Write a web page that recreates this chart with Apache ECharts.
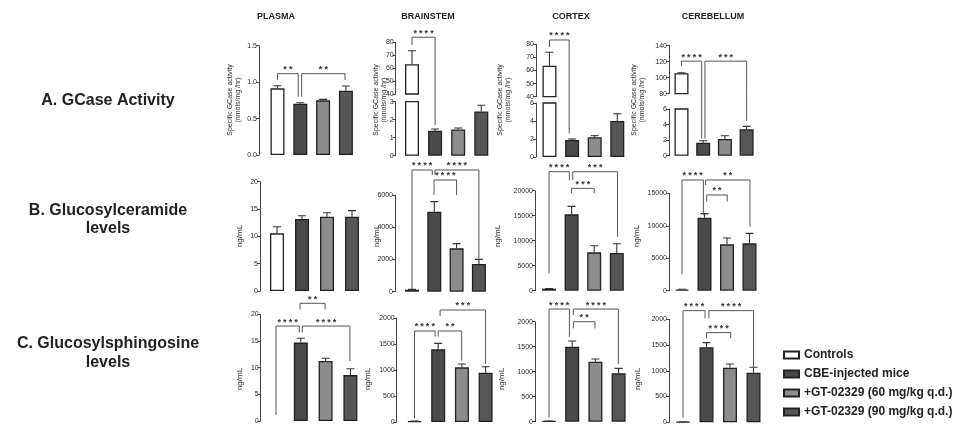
<!DOCTYPE html>
<html>
<head>
<meta charset="utf-8">
<script src="https://cdn.jsdelivr.net/npm/echarts@6/dist/echarts.min.js"></script>
<style>
  html, body { margin: 0; padding: 0; background: #fff; }
  #chart { width: 963px; height: 426px; }
</style>
</head>
<body>
<div id="chart"></div>
<script>
var groups = ['Controls', 'CBE-injected mice', '+GT-02329 (60 mg/kg q.d.)', '+GT-02329 (90 mg/kg q.d.)'];
var tissues = ['PLASMA', 'BRAINSTEM', 'CORTEX', 'CEREBELLUM'];
var rowTitles = [['A. GCase Activity'], ['B. Glucosylceramide', 'levels'], ['C. Glucosylsphingosine', 'levels']];
var gcaseUnit = 'Specific GCase activity\n(nmols/mg /hr)';
var concUnit = 'ng/mL';

// A. GCase activity, mean and SEM
var gcasePlasma = [0.915, 0.705, 0.75, 0.883];
var gcasePlasmaErr = [0.035, 0.013, 0.014, 0.064];
var gcaseBrainstem = [63, 1.39, 1.46, 2.46];
var gcaseBrainstemErr = [10.5, 0.09, 0.08, 0.34];
var gcaseCortex = [63.7, 1.9, 2.2, 4.0];
var gcaseCortexErr = [10.2, 0.1, 0.17, 0.8];
var gcaseCerebellum = [105.6, 1.67, 2.14, 3.39];
var gcaseCerebellumErr = [0.5, 0.26, 0.43, 0.38];

// B. glucosylceramide (ng/mL)
var gcerPlasma = [10.55, 13.17, 13.6, 13.6];
var gcerPlasmaErr = [1.22, 0.61, 0.73, 1.1];
var gcerBrainstem = [125, 4966, 2690, 1717];
var gcerBrainstemErr = [20, 620, 290, 290];
var gcerCortex = [400, 15270, 7670, 7530];
var gcerCortexErr = [50, 1600, 1330, 1870];
var gcerCerebellum = [200, 11250, 7140, 7290];
var gcerCerebellumErr = [30, 620, 975, 1540];

// C. glucosylsphingosine (ng/mL); plasma controls not detected
var gsphPlasma = [null, 14.7, 11.25, 8.6];
var gsphPlasmaErr = [null, 0.8, 0.5, 1.2];
var gsphBrainstem = [15, 1401, 1054, 951];
var gsphBrainstemErr = [2, 116, 64, 116];
var gsphCortex = [10, 1500, 1200, 967];
var gsphCortexErr = [2, 113, 53, 100];
var gsphCerebellum = [10, 1456, 1061, 964];
var gsphCerebellumErr = [2, 91, 72, 104];

// significance brackets: [from, to, top, left leg end, right leg end, stars]
// from/to in category units; on broken axes a leg end below the upper segment belongs to the lower one
var gcasePlasmaSig = [[0, 0.91, 1.116, 1.03, 0.80, '**'], [1.06, 2.96, 1.116, 0.80, 1.03, '**']];
var gcaseBrainstemSig = [[0, 1.0, 83.9, 77.9, 1.7, '****']];
var gcaseCortexSig = [[0, 0.87, 83.3, 78, 2.6, '****']];
var gcaseCerebellumSig = [[0, 0.93, 120.7, 114.4, 2.2, '****'], [1.08, 3.0, 120.7, 2.2, 4.5, '***']];
var gcerBrainstemSig = [[0, 0.91, 7552, 165, 7241, '****'], [1.03, 3.0, 7552, 7241, 1966, '****'], [0.99, 2.0, 6931, 6000, 6000, '****']];
var gcerCortexSig = [[0, 0.9, 23800, 3470, 22130, '****'], [1.05, 3.03, 23800, 22130, 10800, '***'], [1.0, 2.0, 20470, 19470, 19470, '***']];
var gcerCerebellumSig = [[0, 0.95, 17050, 2520, 11660, '****'], [1.05, 3.02, 17050, 16280, 9860, '**'], [1.1, 2.01, 14740, 13710, 13710, '**']];
var gsphPlasmaSig = [[0, 0.94, 17.8, 1.1, 16.6, '****'], [1.06, 2.98, 17.8, 16.6, 11.25, '****'], [0.97, 1.98, 22.06, 20.9, 20.9, '**']];
var gsphBrainstemSig = [[0, 0.87, 1755, 70, 1645, '****'], [1.0, 1.99, 1755, 1645, 1183, '**'], [1.08, 3.0, 2160, 2044, 1118, '***']];
var gsphCortexSig = [[0, 0.88, 2253, 80, 1700, '****'], [1.05, 2.99, 2253, 2133, 1153, '****'], [1.05, 1.98, 2000, 1867, 1867, '**']];
var gsphCerebellumSig = [[0, 0.94, 2168, 90, 2019, '****'], [1.1, 3.0, 2168, 2019, 1049, '****'], [1.0, 2.03, 1741, 1631, 1631, '****']];

var FONT = '"Liberation Sans", Arial, sans-serif';
var fills = ['#ffffff', '#4a4a4a', '#8c8c8c', '#565656'];

// panel layout (pixels): y-axis x, first bar centre, bar spacing, axis segments
var layout = [
  {mean: gcasePlasma, err: gcasePlasmaErr, sig: gcasePlasmaSig, axisX: 259, c0: 277.5, sp: 22.8, dec: 1,
    segs: [{min: 0, max: 1.5, step: 0.5, top: 45.7, bottom: 155}]},
  {mean: gcaseBrainstem, err: gcaseBrainstemErr, sig: gcaseBrainstemSig, axisX: 395.7, c0: 412, sp: 23.1,
    segs: [{min: 40, max: 80, step: 10, top: 42.3, bottom: 94}, {min: 0, max: 3, step: 1, top: 101.7, bottom: 155.7}]},
  {mean: gcaseCortex, err: gcaseCortexErr, sig: gcaseCortexSig, axisX: 536, c0: 549.5, sp: 22.6,
    segs: [{min: 40, max: 80, step: 10, top: 44.3, bottom: 96.7}, {min: 0, max: 6, step: 2, top: 103, bottom: 157}]},
  {mean: gcaseCerebellum, err: gcaseCerebellumErr, sig: gcaseCerebellumSig, axisX: 669, c0: 681.5, sp: 21.7,
    segs: [{min: 80, max: 140, step: 20, top: 45.7, bottom: 93.7}, {min: 0, max: 6, step: 2, top: 109, bottom: 155.7}]},

  {mean: gcerPlasma, err: gcerPlasmaErr, sig: null, axisX: 260, c0: 277, sp: 25,
    segs: [{min: 0, max: 20, step: 5, top: 181.7, bottom: 291}]},
  {mean: gcerBrainstem, err: gcerBrainstemErr, sig: gcerBrainstemSig, axisX: 395, c0: 412, sp: 22.3,
    segs: [{min: 0, max: 6000, step: 2000, top: 195, bottom: 291.7}]},
  {mean: gcerCortex, err: gcerCortexErr, sig: gcerCortexSig, axisX: 535, c0: 549, sp: 22.6,
    segs: [{min: 0, max: 20000, step: 5000, top: 190.7, bottom: 290.7}]},
  {mean: gcerCerebellum, err: gcerCerebellumErr, sig: gcerCerebellumSig, axisX: 669, c0: 682, sp: 22.5,
    segs: [{min: 0, max: 15000, step: 5000, top: 193.3, bottom: 290.7}]},

  {mean: gsphPlasma, err: gsphPlasmaErr, sig: gsphPlasmaSig, axisX: 260.7, c0: 276, sp: 24.8,
    segs: [{min: 0, max: 20, step: 5, top: 314.3, bottom: 421}]},
  {mean: gsphBrainstem, err: gsphBrainstemErr, sig: gsphBrainstemSig, axisX: 396.7, c0: 414.5, sp: 23.7,
    segs: [{min: 0, max: 2000, step: 500, top: 318.3, bottom: 422}]},
  {mean: gsphCortex, err: gsphCortexErr, sig: gsphCortexSig, axisX: 535, c0: 549, sp: 23.2,
    segs: [{min: 0, max: 2000, step: 500, top: 321.7, bottom: 421.7}]},
  {mean: gsphCerebellum, err: gsphCerebellumErr, sig: gsphCerebellumSig, axisX: 669, c0: 683, sp: 23.5,
    segs: [{min: 0, max: 2000, step: 500, top: 319.3, bottom: 422.3}]}
];

var unitLabels = [
  {text: gcaseUnit, size: 7, y: 100, xs: [234, 380, 504, 638]},
  {text: concUnit, size: 8, y: 236, xs: [240, 377, 498, 637]},
  {text: concUnit, size: 8, y: 379, xs: [240, 368, 502, 638]}
];

function makeBracket(p, si) {
  var seg = p.segs[si], upper = p.segs[0];
  var line = {stroke: '#555', lineWidth: 1, fill: 'none'};
  return function (params, api) {
    var b = p.sig[params.dataIndex];
    var c0 = api.coord([0, seg.min])[0];
    var band = api.size([1, 0])[0];
    var X = function (x) { return c0 + x * band; };
    var children = [];
    if (si === 0) {
      var yTop = api.coord([0, b[2]])[1];
      var y1 = api.coord([0, Math.max(b[3], seg.min)])[1];
      var y2 = api.coord([0, Math.max(b[4], seg.min)])[1];
      children.push({type: 'polyline', shape: {points: [[X(b[0]), y1], [X(b[0]), yTop], [X(b[1]), yTop], [X(b[1]), y2]]}, style: line});
      var n = b[5].length, cx = (X(b[0]) + X(b[1])) / 2;
      for (var k = 0; k < n; k++) {
        children.push({type: 'text', x: cx + (k - (n - 1) / 2) * 5.6, y: yTop - 4,
          style: {text: '*', font: 'bold 9px ' + FONT, fill: '#333', align: 'center', verticalAlign: 'middle'}});
      }
    } else {
      var yStart = api.coord([0, seg.max])[1] - (seg.top - upper.bottom);
      [[b[0], b[3]], [b[1], b[4]]].forEach(function (leg) {
        if (leg[1] < upper.min) {
          children.push({type: 'line', shape: {x1: X(leg[0]), y1: yStart, x2: X(leg[0]), y2: api.coord([0, leg[1]])[1]}, style: line});
        }
      });
    }
    return {type: 'group', children: children};
  };
}

function errorBar(params, api) {
  if (!(api.value(2) > api.value(1))) return;
  var a = api.coord([api.value(0), api.value(1)]);
  var b = api.coord([api.value(0), api.value(2)]);
  var st = {stroke: '#333', lineWidth: 1.1, fill: 'none'};
  return {type: 'group', children: [
    {type: 'line', shape: {x1: a[0], y1: a[1], x2: b[0], y2: b[1]}, style: st},
    {type: 'line', shape: {x1: b[0] - 4, y1: b[1], x2: b[0] + 4, y2: b[1]}, style: st}
  ]};
}

var grids = [], xAxes = [], yAxes = [], series = [];
layout.forEach(function (p) {
  p.segs.forEach(function (s, si) {
    var gi = grids.length;
    var left = p.c0 - p.sp / 2;
    grids.push({left: left, top: s.top, width: p.sp * 4, height: s.bottom - s.top});
    xAxes.push({type: 'category', gridIndex: gi, data: groups, show: false});
    yAxes.push({
      type: 'value', gridIndex: gi, min: s.min, max: s.max, interval: s.step, offset: left - p.axisX,
      axisLine: {show: true, lineStyle: {color: '#444', width: 1}},
      axisTick: {show: true, length: 3, lineStyle: {color: '#444', width: 1}},
      axisLabel: {fontSize: 7, color: '#2a2a2a', margin: 2, fontFamily: FONT,
        formatter: function (v) { return p.dec ? v.toFixed(p.dec) : String(v); }},
      splitLine: {show: false}
    });
    groups.forEach(function (g, k) {
      series.push({
        type: 'bar', name: g, xAxisIndex: gi, yAxisIndex: gi, barWidth: 14, barGap: '-100%', silent: true,
        data: p.mean.map(function (v, i) { return i === k && v != null ? v : '-'; }),
        itemStyle: {color: fills[k], borderColor: '#222', borderWidth: 1.3}
      });
    });
    series.push({
      type: 'custom', xAxisIndex: gi, yAxisIndex: gi, clip: true, z: 3, silent: true,
      data: p.mean.map(function (v, i) { return v == null ? [i, 0, 0] : [i, v, v + p.err[i]]; }),
      encode: {x: 0, y: 1}, renderItem: errorBar
    });
    if (p.sig) {
      series.push({
        type: 'custom', xAxisIndex: gi, yAxisIndex: gi, clip: false, z: 4, silent: true,
        data: p.sig.map(function (b) { return [0, b[2]]; }),
        encode: {x: 0, y: 1}, renderItem: makeBracket(p, si)
      });
    }
  });
});

var graphics = [];
[276, 428, 571, 713].forEach(function (x, i) {
  graphics.push({type: 'text', x: x, y: 17, style: {text: tissues[i], font: 'bold 9px ' + FONT, fill: '#222', align: 'center', verticalAlign: 'middle'}});
});
[[101], [211, 229], [344, 363]].forEach(function (ys, r) {
  ys.forEach(function (y, j) {
    graphics.push({type: 'text', x: 108, y: y, style: {text: rowTitles[r][j], font: 'bold 16px ' + FONT, fill: '#222', align: 'center', verticalAlign: 'middle'}});
  });
});
unitLabels.forEach(function (u) {
  u.xs.forEach(function (x) {
    graphics.push({type: 'text', x: x, y: u.y, rotation: Math.PI / 2,
      style: {text: u.text, font: u.size + 'px ' + FONT, fill: '#2a2a2a', align: 'center', verticalAlign: 'middle', lineHeight: 8}});
  });
});

var chart = echarts.init(document.getElementById('chart'));
chart.setOption({
  animation: false,
  backgroundColor: '#fff',
  grid: grids,
  xAxis: xAxes,
  yAxis: yAxes,
  legend: {
    data: groups, orient: 'vertical', left: 778, top: 344, icon: 'rect',
    itemWidth: 15, itemHeight: 7, itemGap: 7, selectedMode: false,
    textStyle: {fontSize: 12, fontWeight: 'bold', color: '#222', fontFamily: FONT}
  },
  graphic: graphics,
  series: series
});
</script>
</body>
</html>
